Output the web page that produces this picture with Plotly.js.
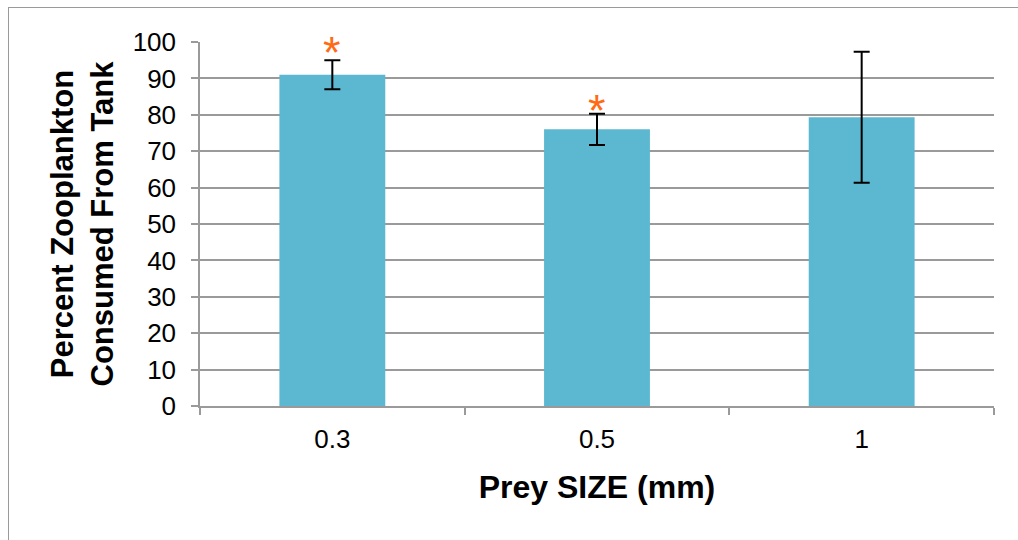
<!DOCTYPE html>
<html>
<head>
<meta charset="utf-8">
<script src="https://cdn.plot.ly/plotly-3.0.1.min.js"></script>
<style>
  html, body { margin: 0; padding: 0; background: #fff; }
  #wrap { position: relative; width: 1018px; height: 540px; }
  #chart { position: absolute; left: 0; top: 0; width: 1018px; height: 540px; }
  #frame { position: absolute; left: 8px; top: 7px; width: 1020px; height: 540px;
           border-left: 1.5px solid #9a9a9a; border-top: 1.5px solid #9a9a9a; pointer-events: none; }
</style>
</head>
<body>
<div id="wrap"><div id="chart"></div><div id="frame"></div></div>
<script>
// Data
const categories = ["0.3", "0.5", "1"];
const percentConsumed = [91, 76, 79.3];
const errorValues = [4, 4.3, 18];
const significantCategories = ["0.3", "0.5"];
const starLevels = [100, 84];

const trace = {
  type: "bar",
  x: categories,
  y: percentConsumed,
  marker: { color: "rgb(91,184,208)" },
  error_y: { type: "data", array: errorValues, visible: true, color: "#000", thickness: 2, width: 8 },
  hoverinfo: "x+y"
};

const annotations = significantCategories.map((c, i) => ({
  x: categories.indexOf(c), y: starLevels[i], xref: "x", yref: "y",
  text: "*", showarrow: false, yanchor: "middle", yshift: -10,
  font: { family: "Liberation Sans, Arial, sans-serif", size: 45, color: "#FF6A13" }
}));

const layout = {
  width: 1018, height: 540,
  margin: { l: 200, r: 24, t: 42, b: 134 },
  paper_bgcolor: "#fff", plot_bgcolor: "#fff",
  showlegend: false,
  bargap: 0.6,
  font: { family: "Liberation Sans, Arial, sans-serif", color: "#000", size: 26 },
  xaxis: {
    type: "category",
    showline: true, linecolor: "#9a9a9a", linewidth: 1.5,
    ticks: "outside", tickson: "boundaries", ticklen: 7, tickcolor: "#9a9a9a", tickwidth: 1.5,
    tickfont: { size: 26 }, ticklabelstandoff: 9,
    title: { text: "<b>Prey SIZE (mm)</b>", font: { size: 32 }, standoff: 23 },
    automargin: false
  },
  yaxis: {
    range: [0, 100], dtick: 10, tick0: 0,
    showline: true, linecolor: "#9a9a9a", linewidth: 1.5,
    ticks: "outside", ticklen: 7, tickcolor: "#9a9a9a", tickwidth: 1.5,
    showgrid: true, gridcolor: "#9a9a9a", gridwidth: 1.5,
    zeroline: false,
    tickfont: { size: 26 }, ticklabelstandoff: 10,
    title: { text: "<b>Percent Zooplankton<br>Consumed From Tank</b>", font: { size: 31 }, standoff: 10 },
    automargin: false
  },
  annotations: annotations
};

Plotly.newPlot("chart", [trace], layout, { displayModeBar: false });
</script>
</body>
</html>
